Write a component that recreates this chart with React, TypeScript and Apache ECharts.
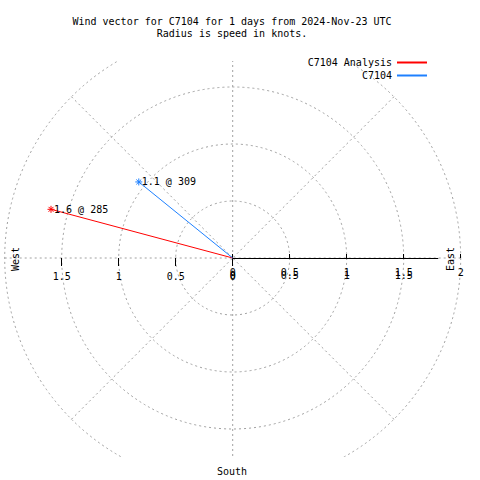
import React, { useEffect, useRef } from 'react';
import * as echarts from 'echarts';

const titleLines = [
  'Wind vector for C7104 for 1 days from 2024-Nov-23 UTC',
  'Radius is speed in knots.',
];
const seriesNames = ['C7104 Analysis', 'C7104'];
const speedsKnots = [1.65, 1.06];
const bearingsDeg = [285, 309];
const seriesColors = ['#ff0000', '#1e80ff'];
const radiusMin = 0;
const radiusMax = 2;
const westMax = 1.5;
const radiusStep = 0.5;
const angleStep = 45;
const eastLabel = 'East';
const westLabel = 'West';
const southLabel = 'South';

const FONT = 'DejaVu Sans Mono';
const CENTER = [232.7, 258];
const R = 228;
const STAR = 'path://M4,0L4,8M0,4L8,4M1.2,1.2L6.8,6.8M1.2,6.8L6.8,1.2';

export default function App() {
  const ref = useRef<HTMLDivElement>(null);
  useEffect(() => {
    const chart = echarts.init(ref.current!, null, { renderer: 'svg' });
    const dash = { color: '#a0a0a0', type: [2, 3], width: 1 };
    const lbl = { fontFamily: FONT, fontSize: 10, color: '#000' };
    const fmt = (hide: number[]) => (v: number) => (hide.indexOf(v) >= 0 ? '' : String(v));
    const hiddenAngle = (i: number, start: number) => ({
      polarIndex: i, type: 'value', min: 0, max: 360, startAngle: start, clockwise: true,
      axisLine: { show: false }, axisTick: { show: false }, axisLabel: { show: false }, splitLine: { show: false },
    });
    const radiusBase = { type: 'value', min: radiusMin, max: radiusMax, interval: radiusStep, splitLine: { show: false } };

    chart.setOption({
      animation: false,
      backgroundColor: '#ffffff',
      polar: [
        { center: CENTER, radius: R },
        { center: CENTER, radius: R },
        { center: CENTER, radius: (R * westMax) / radiusMax },
        { center: CENTER, radius: R },
        { center: CENTER, radius: R * 0.9 },
      ],
      angleAxis: [
        {
          polarIndex: 0, type: 'value', min: 0, max: 360, interval: angleStep, startAngle: 90, clockwise: true,
          axisLine: { show: false }, axisTick: { show: false }, axisLabel: { show: false },
          splitLine: { show: true, lineStyle: dash },
        },
        hiddenAngle(1, 0),
        hiddenAngle(2, 180),
        hiddenAngle(3, 0),
        hiddenAngle(4, 0),
      ],
      radiusAxis: [
        {
          ...radiusBase, polarIndex: 0,
          axisLine: { show: false }, axisTick: { show: false }, axisLabel: { show: false },
          splitLine: { show: true, lineStyle: dash },
        },
        {
          ...radiusBase, polarIndex: 1,
          axisLine: { show: false },
          axisTick: { show: true, length: 4, lineStyle: { color: '#000', width: 1 } },
          axisLabel: { show: true, ...lbl, verticalAlign: 'middle', margin: -17.5, formatter: fmt([2]) },
        },
        {
          ...radiusBase, polarIndex: 2, max: westMax,
          axisLine: { show: false },
          axisTick: { show: true, length: 8, lineStyle: { color: '#000', width: 1 } },
          axisLabel: { show: true, ...lbl, margin: 13, formatter: fmt([]) },
        },
        {
          ...radiusBase, polarIndex: 3,
          axisLine: { show: false },
          axisTick: { show: true, inside: true, length: 4, lineStyle: { color: '#000', width: 1 } },
          axisLabel: { show: true, ...lbl, verticalAlign: 'middle', margin: -14.5, formatter: fmt([]) },
        },
        {
          ...radiusBase, polarIndex: 4, max: radiusMax * 0.9,
          axisLine: { show: true, lineStyle: { color: '#000', width: 1 } },
          axisTick: { show: false }, axisLabel: { show: false },
        },
      ],
      legend: {
        orient: 'vertical', right: 53, top: 56, align: 'right', padding: 0, itemGap: 0,
        itemWidth: 30, itemHeight: 2, icon: 'rect', selectedMode: false, z: 100,
        itemStyle: { borderWidth: 0 },
        textStyle: { ...lbl, lineHeight: 13 },
        data: seriesNames,
      },
      series: seriesNames.map((name, i) => ({
        name, type: 'line', coordinateSystem: 'polar', polarIndex: 0,
        data: [
          { value: [0, bearingsDeg[i]], symbol: 'none', label: { show: false } },
          { value: [speedsKnots[i], bearingsDeg[i]] },
        ],
        symbol: STAR, symbolSize: 7,
        lineStyle: { color: seriesColors[i], width: 1 },
        itemStyle: { color: seriesColors[i], borderColor: seriesColors[i], borderWidth: 1 },
        label: {
          show: true, position: 'right', distance: -1, ...lbl,
          formatter: (p: any) => `${p.value[0].toFixed(1)} @ ${p.value[1]}`,
        },
        emphasis: { disabled: true }, silent: true, z: 10,
      })),
      graphic: [
        { type: 'rect', z: 50, silent: true, shape: { x: 0, y: 0, width: 480, height: 61 }, style: { fill: '#fff' } },
        { type: 'rect', z: 50, silent: true, shape: { x: 0, y: 457, width: 480, height: 23 }, style: { fill: '#fff' } },
        { type: 'text', z: 60, x: 232, y: 21.5, style: { text: titleLines[0], font: `10px "${FONT}"`, fill: '#000', textAlign: 'center', textVerticalAlign: 'middle' } },
        { type: 'text', z: 60, x: 232, y: 33, style: { text: titleLines[1], font: `10px "${FONT}"`, fill: '#000', textAlign: 'center', textVerticalAlign: 'middle' } },
        { type: 'text', z: 60, x: 232, y: 471, style: { text: southLabel, font: `10px "${FONT}"`, fill: '#000', textAlign: 'center', textVerticalAlign: 'middle' } },
        { type: 'text', z: 60, x: 15.5, y: 259, rotation: Math.PI / 2, style: { text: westLabel, font: `10px "${FONT}"`, fill: '#000', textAlign: 'center', textVerticalAlign: 'middle' } },
        { type: 'text', z: 60, x: 450.5, y: 259, rotation: Math.PI / 2, style: { text: eastLabel, font: `10px "${FONT}"`, fill: '#000', textAlign: 'center', textVerticalAlign: 'middle' } },
      ],
    });
    return () => chart.dispose();
  }, []);
  return <div ref={ref} style={{ position: 'fixed', left: 0, top: 0, width: 480, height: 480 }} />;
}
